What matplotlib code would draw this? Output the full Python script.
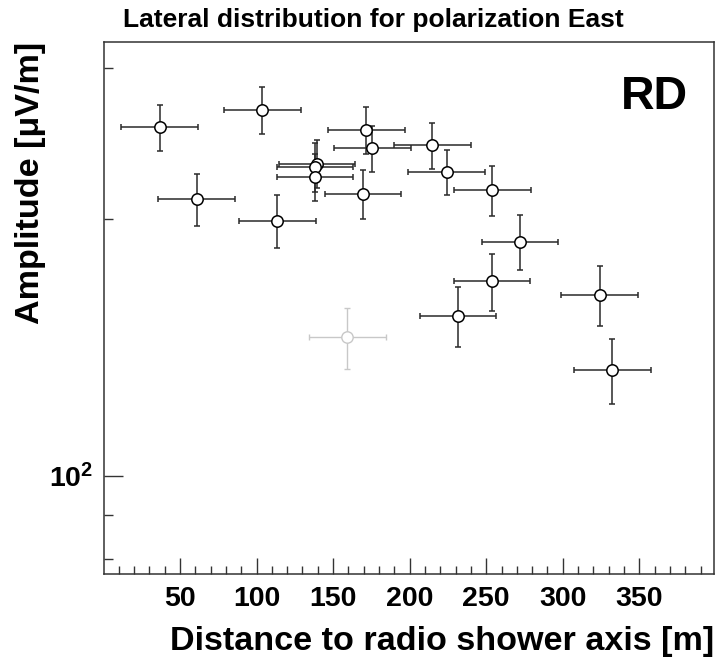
import matplotlib
matplotlib.use("Agg")
import matplotlib.pyplot as plt
from matplotlib.ticker import FixedLocator, FixedFormatter, MultipleLocator, NullFormatter

plt.rcParams['font.family'] = ['Liberation Sans', 'DejaVu Sans']
plt.rcParams['font.weight'] = 'bold'
plt.rcParams['mathtext.fontset'] = 'custom'
plt.rcParams['mathtext.rm'] = 'Liberation Sans:bold'
plt.rcParams['mathtext.bf'] = 'Liberation Sans:bold'

# distance to shower axis [m] and amplitude [uV/m]
dist = [36.7, 103.8, 60.9, 113.6, 171.7, 175.6, 214.8, 224.2, 254.0,
        169.5, 139.5, 138.2, 138.2, 272.1, 253.8, 231.6, 324.1, 332.4]
amp = [256, 268, 211, 199, 254, 242, 244, 227, 216,
       214, 232, 230, 224, 188, 169, 154, 163, 133]
amp_err = [16, 17, 14.6, 14, 16, 15, 15, 14, 14.7,
           14, 15, 15, 14, 13.8, 13, 12.4, 13, 11.7]
dist_err = [25] * len(dist)

# excluded station (drawn in light grey)
excl_dist = [159.3]
excl_amp = [145.3]
excl_amp_err = [12]
excl_dist_err = [25]

fig = plt.figure(figsize=(7.16, 6.57), dpi=100)
ax = fig.add_axes([104/716, 83/657, 610/716, 532/657])

ax.errorbar(excl_dist, excl_amp, xerr=excl_dist_err, yerr=excl_amp_err,
            fmt='o', ms=8.2, mfc='white', mec='#c8c8c8', mew=1.0,
            ecolor='#c8c8c8', elinewidth=1.0, capsize=2.2, capthick=1.0)
ax.errorbar(dist, amp, xerr=dist_err, yerr=amp_err,
            fmt='o', ms=8.2, mfc='white', mec='black', mew=1.1,
            ecolor='#2a2a2a', elinewidth=1.1, capsize=2.2, capthick=1.1)

ax.set_yscale('log')
ax.set_xlim(0.35, 398.8)
ax.set_ylim(76.8, 322)

ax.xaxis.set_major_locator(MultipleLocator(50))
ax.xaxis.set_minor_locator(MultipleLocator(10))
ax.yaxis.set_major_locator(FixedLocator([100]))
ax.yaxis.set_major_formatter(FixedFormatter([r'$\mathbf{10^{2}}$']))
ax.yaxis.set_minor_locator(FixedLocator([80, 90, 200, 300]))
ax.yaxis.set_minor_formatter(NullFormatter())

ax.tick_params(axis='both', which='both', direction='in', top=False, right=False,
               labelsize=20.5, width=1.0, color='#333333')
ax.tick_params(axis='x', which='major', length=11.5, pad=9)
ax.tick_params(axis='x', which='minor', length=5.5)
ax.tick_params(axis='y', which='major', length=13.5, pad=8)
ax.tick_params(axis='y', which='minor', length=6.5)
for lab in ax.get_xticklabels() + ax.get_yticklabels():
    lab.set_fontweight('bold')

for s in ax.spines.values():
    s.set_linewidth(1.1)
    s.set_color('#333333')

ax.text(0.957, 0.897, 'RD', transform=ax.transAxes, ha='right', va='center',
        fontsize=33.5, fontweight='bold')

fig.text(373/716, 1 - 27.3/657, 'Lateral distribution for polarization East',
         ha='center', va='baseline', fontsize=19, fontweight='bold')
fig.text(714/716, 1 - 650/657, 'Distance to radio shower axis [m]',
         ha='right', va='baseline', fontsize=24.6, fontweight='bold')
fig.text(31/716, 1 - 42/657, 'Amplitude [μV/m]', rotation=90,
         ha='center', va='top', fontsize=24.6, fontweight='bold')

fig.savefig('out.png', dpi=100)
